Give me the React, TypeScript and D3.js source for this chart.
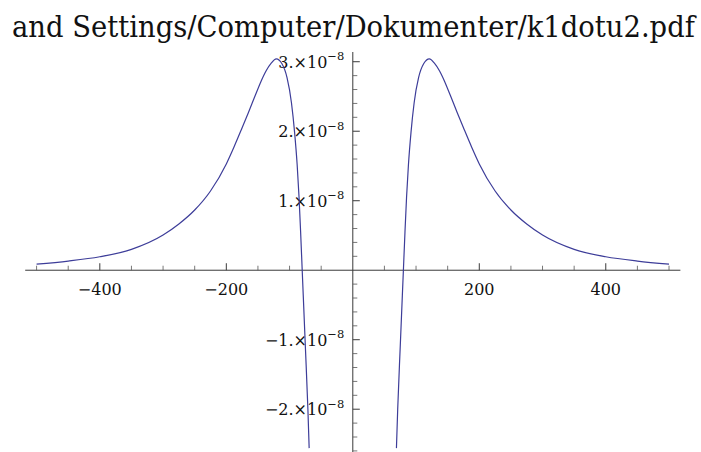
import React, { useLayoutEffect, useRef, useState } from "react";
import * as d3 from "d3";

const W = 701;
const H = 452;

const TITLE = "and Settings/Computer/Dokumenter/k1dotu2.pdf";

// Left branch: x and f(x) in units of 1e-8
const leftX = [-500, -450, -400, -350, -300, -275, -250, -225, -200, -188, -175, -165, -154, -145, -137, -129, -121, -112, -104, -97, -92, -88, -85, -82.5, -80, -75, -71, -69];
const leftY = [0.088, 0.132, 0.194, 0.3, 0.506, 0.665, 0.866, 1.14, 1.53, 1.77, 2.05, 2.27, 2.52, 2.72, 2.87, 2.98, 3.04, 2.97, 2.77, 2.41, 1.98, 1.52, 1.05, 0.55, 0, -1.1, -2.0, -2.56];

// Right branch
const rightX = [69, 71, 75, 80, 82.5, 85, 88, 92, 97, 104, 112, 121, 129, 137, 145, 154, 165, 175, 188, 200, 225, 250, 275, 300, 350, 400, 450, 500];
const rightY = [-2.56, -2.0, -1.1, 0, 0.55, 1.05, 1.52, 1.98, 2.41, 2.77, 2.97, 3.04, 2.98, 2.87, 2.72, 2.52, 2.27, 2.05, 1.77, 1.53, 1.14, 0.866, 0.665, 0.506, 0.3, 0.194, 0.132, 0.088];

// Tick values
const xMajorTicks = [-400, -200, 200, 400];
const xMajorLabels = ["\u2212400", "\u2212200", "200", "400"];
const xMinorTicks = [-500, -450, -350, -300, -250, -150, -100, -50, 50, 100, 150, 250, 300, 350, 450, 500];
const yMajorTicks = [-2, -1, 1, 2, 3];
const yMajorMantissa = ["\u22122.", "\u22121.", "1.", "2.", "3."];

const FONT = '"DejaVu Serif", serif';
const CURVE = "#3d3d99";
const AXIS = "#3a3a3a";

const TITLE_LEFT = 12;
const TITLE_WIDTH = 683;

export default function App() {
  const titleRef = useRef<SVGTextElement>(null);
  const [titleScale, setTitleScale] = useState(0.82);

  useLayoutEffect(() => {
    const el = titleRef.current;
    if (el) {
      const w = el.getComputedTextLength();
      if (w > 0) setTitleScale(TITLE_WIDTH / w);
    }
  }, []);

  const x = d3.scaleLinear().domain([-518, 518]).range([25.2, 680.4]);
  const y = d3.scaleLinear().domain([-2.62, 3.14]).range([452.3, 52]);

  const x0 = x(0);
  const y0 = y(0);

  const line = d3
    .line<[number, number]>()
    .x((d) => x(d[0]))
    .y((d) => y(d[1]))
    .curve(d3.curveMonotoneX);

  const leftPath = line(leftX.map((v, i) => [v, leftY[i]] as [number, number])) || "";
  const rightPath = line(rightX.map((v, i) => [v, rightY[i]] as [number, number])) || "";

  const yMinorTicks = d3
    .range(-26, 31, 2)
    .map((v) => v / 10)
    .filter((v) => Math.abs(v - Math.round(v)) > 1e-6);

  const textStyle = { fontFamily: FONT };

  return (
    <div style={{ position: "absolute", left: 0, top: 0, fontFamily: FONT }}>
      <svg width={W} height={H} style={{ display: "block", background: "#fff" }}>
        <g transform={`translate(${TITLE_LEFT},36.5) scale(${titleScale},1)`}>
          <text ref={titleRef} x={0} y={0} style={textStyle} fontSize={30} fill="#111">
            {TITLE}
          </text>
        </g>

        {/* axes */}
        <line x1={x(-518)} x2={x(518)} y1={y0} y2={y0} stroke={AXIS} strokeWidth={1} />
        <line x1={x0} x2={x0} y1={y(3.14)} y2={y(-2.62)} stroke={AXIS} strokeWidth={1} />

        {/* x ticks */}
        {xMinorTicks.map((t) => (
          <line key={"xm" + t} x1={x(t)} x2={x(t)} y1={y0} y2={y0 - 4.5} stroke="#555" strokeWidth={0.8} />
        ))}
        {xMajorTicks.map((t, i) => (
          <g key={"xM" + t}>
            <line x1={x(t)} x2={x(t)} y1={y0} y2={y0 - 7} stroke={AXIS} strokeWidth={1} />
            <text x={x(t)} y={y0 + 25} textAnchor="middle" style={textStyle} fontSize={16} fill="#111">
              {xMajorLabels[i]}
            </text>
          </g>
        ))}

        {/* y ticks */}
        {yMinorTicks.map((t) => (
          <line key={"ym" + t} x1={x0} x2={x0 + 4.5} y1={y(t)} y2={y(t)} stroke="#555" strokeWidth={0.8} />
        ))}
        {yMajorTicks.map((t, i) => (
          <g key={"yM" + t}>
            <line x1={x0} x2={x0 + 7} y1={y(t)} y2={y(t)} stroke={AXIS} strokeWidth={1} />
            <text x={x0 - 8.5} y={y(t) + 6} textAnchor="end" style={textStyle} fontSize={16} fill="#111">
              <tspan>{yMajorMantissa[i]}</tspan>
              <tspan>{"\u00d7"}</tspan>
              <tspan>10</tspan>
              <tspan dy={-7.5} fontSize={11.5}>{"\u22128"}</tspan>
            </text>
          </g>
        ))}

        {/* curve */}
        <path d={leftPath} fill="none" stroke={CURVE} strokeWidth={1.2} />
        <path d={rightPath} fill="none" stroke={CURVE} strokeWidth={1.2} />
      </svg>
    </div>
  );
}
